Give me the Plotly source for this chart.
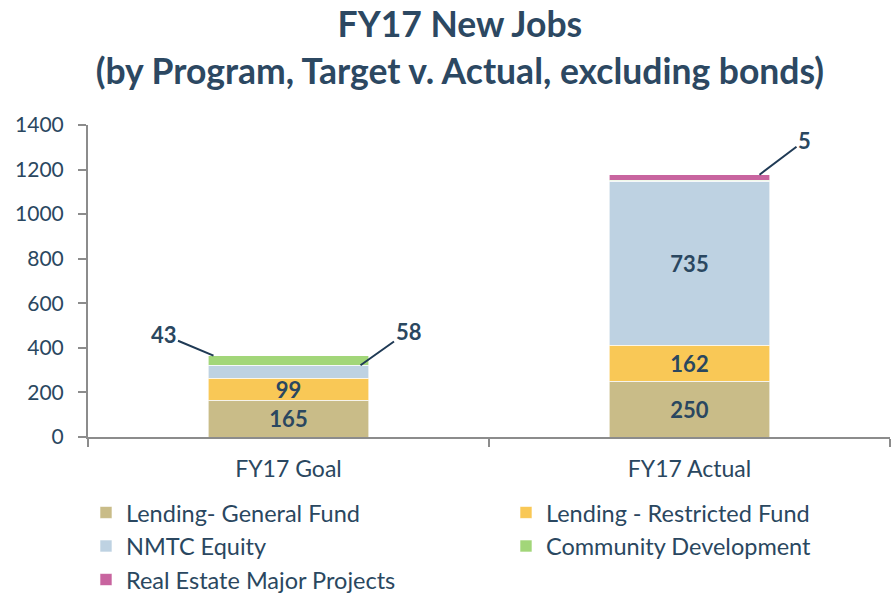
import plotly.graph_objects as go

categories = ["FY17 Goal", "FY17 Actual"]
series_names = ["Lending- General Fund", "Lending - Restricted Fund", "NMTC Equity",
                "Community Development", "Real Estate Major Projects"]
general_fund = [165, 250]
restricted_fund = [99, 162]
nmtc_equity = [58, 735]
community_dev = [43, 5]
real_estate = [0, 25]
y_ticks = [0, 200, 400, 600, 800, 1000, 1200, 1400]

colors = ["#C9BC88", "#F9C856", "#BED2E2", "#A2D679", "#C8649F"]
series = [general_fund, restricted_fund, nmtc_equity, community_dev, real_estate]
# which points get an inside label
inside_label = [[True, True], [True, True], [False, True], [False, False], [False, False]]

text_color = "#2A4760"
FONT = "Lato"

fig = go.Figure()
for name, vals, col, lab in zip(series_names, series, colors, inside_label):
    fig.add_trace(go.Bar(
        x=categories, y=vals, name=name,
        marker=dict(color=col, line=dict(color="rgba(255,255,255,0.6)", width=1)),
        text=[str(v) if l else "" for v, l in zip(vals, lab)],
        textposition="inside", insidetextanchor="middle", textangle=0,
        constraintext="none",
        textfont=dict(family=FONT, size=22, color=text_color, weight="bold"),
        width=0.4,
    ))

goal_tot_cd = general_fund[0] + restricted_fund[0] + nmtc_equity[0] + community_dev[0]
goal_tot_nmtc = general_fund[0] + restricted_fund[0] + nmtc_equity[0]
act_tot = general_fund[1] + restricted_fund[1] + nmtc_equity[1] + community_dev[1] + real_estate[1]

ann_font = dict(family=FONT, size=22, color=text_color, weight="bold")
arrow = dict(showarrow=True, arrowhead=0, arrowwidth=2, arrowcolor="#1F3A55", font=ann_font)
fig.add_annotation(x=categories[0], y=goal_tot_cd, text=str(community_dev[0]),
                   xshift=-75, ax=-50, ay=-21, **arrow)
fig.add_annotation(x=categories[0], y=goal_tot_nmtc, text=str(nmtc_equity[0]),
                   xshift=72, ax=48, ay=-34, **arrow)
fig.add_annotation(x=categories[1], y=act_tot, text=str(community_dev[1]),
                   xshift=70, ax=45, ay=-34, **arrow)

fig.update_layout(
    barmode="stack",
    width=893, height=595,
    margin=dict(l=88, r=3, t=125, b=158, autoexpand=False),
    paper_bgcolor="white", plot_bgcolor="white",
    font=dict(family=FONT, color=text_color),
    title=dict(text="FY17 New Jobs<br>(by Program, Target v. Actual, excluding bonds)",
               x=0.515, xanchor="center", xref="container", y=0.937, yanchor="middle", yref="container",
               font=dict(family=FONT, size=35.5, color="#2C4862", weight="bold")),
    showlegend=True,
    legend=dict(orientation="h", x=-0.0025, xanchor="left", y=-0.172, yanchor="top",
                entrywidth=375, entrywidthmode="pixels",
                font=dict(family=FONT, size=23.5, color=text_color),
                traceorder="normal"),
)
fig.update_yaxes(range=[0, 1400], tickvals=y_ticks, showgrid=False, zeroline=False,
                 showline=True, linecolor="#8C8C8C", linewidth=2,
                 ticks="outside", ticklen=8, tickcolor="#8C8C8C", tickwidth=2,
                 ticklabelstandoff=10,
                 tickfont=dict(family=FONT, size=21, color=text_color))
fig.update_xaxes(showline=True, linecolor="#8C8C8C", linewidth=2,
                 ticks="outside", tickson="boundaries", ticklen=8, tickcolor="#8C8C8C", tickwidth=2,
                 ticklabelstandoff=10,
                 tickfont=dict(family=FONT, size=23, color=text_color), showgrid=False)

fig.write_html("out.html", config={"displayModeBar": False},
               post_script="document.body.style.margin='0';")
